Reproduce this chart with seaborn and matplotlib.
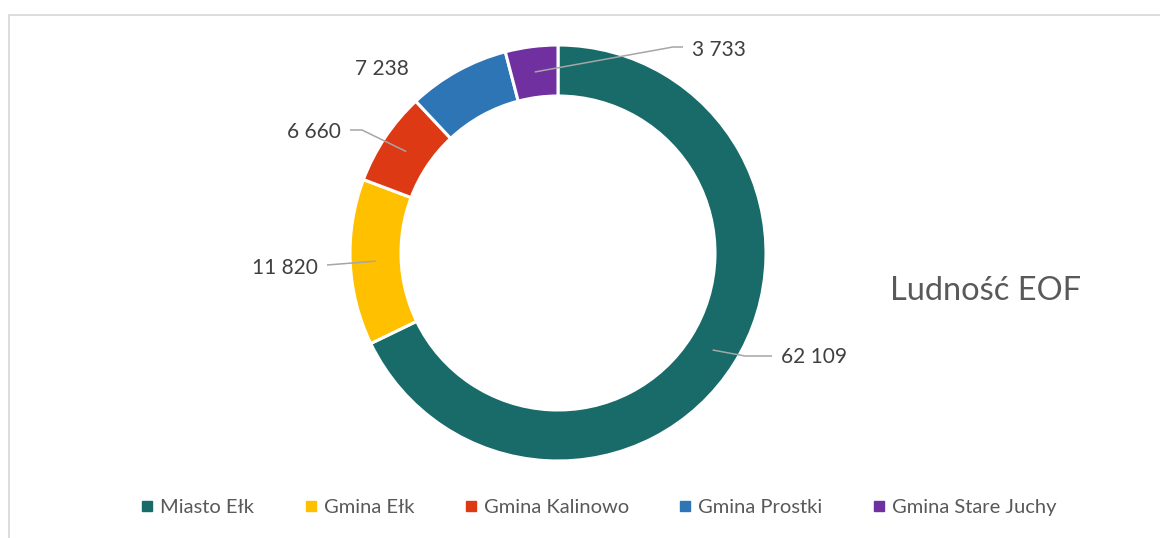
import numpy as np
import seaborn as sns
import matplotlib.pyplot as plt
from matplotlib.lines import Line2D

# dane - ludność EOF
names = ["Miasto Ełk", "Gmina Ełk", "Gmina Kalinowo", "Gmina Prostki", "Gmina Stare Juchy"]
values = [62109, 11820, 6660, 7238, 3733]
colors = ["#186B69", "#FFC000", "#DD3915", "#2E75B6", "#7030A0"]
title = "Ludność EOF"

sns.set_theme(style="white")
plt.rcParams["font.family"] = ["Lato", "DejaVu Sans"]

W, H = 1160, 538
fig = plt.figure(figsize=(W / 100, H / 100), dpi=100)
ax = fig.add_axes([0, 0, 1, 1])

cx, cy, R, ring = 558, H - 253, 208, 51
wedges, _ = ax.pie(values, colors=colors, startangle=90, counterclock=False,
                   radius=R, center=(cx, cy),
                   wedgeprops=dict(width=ring, edgecolor="white", linewidth=2.2))
ax.set_xlim(0, W)
ax.set_ylim(0, H)
ax.set_aspect("equal")
ax.axis("off")

# etykiety z liniami odniesienia (elbow, koniec linii, pozycja tekstu, wyrównanie)
label_layout = [
    ((745, 356), (772, 356), (781, 357), "left"),
    (None, (327, 265), (318, 268), "right"),
    ((362, 130), (350, 130), (341, 132), "right"),
    (None, None, (382, 69), "center"),
    ((673, 47), (683, 47), (692, 50), "left"),
]
grey = "#A6A6A6"
for w, v, (elbow, end, txt, ha) in zip(wedges, values, label_layout):
    mid = np.deg2rad((w.theta1 + w.theta2) / 2)
    r_mid = R - ring / 2
    sx, sy = cx + r_mid * np.cos(mid), cy + r_mid * np.sin(mid)
    if end is not None:
        pts = [(sx, sy)]
        if elbow is not None:
            pts.append((elbow[0], H - elbow[1]))
        pts.append((end[0], H - end[1]))
        xs, ys = zip(*pts)
        ax.plot(xs, ys, color=grey, lw=1.1, solid_capstyle="butt")
    ax.text(txt[0], H - txt[1], f"{v:,}".replace(",", " "), ha=ha, va="center",
            fontsize=15, color="#404040")

ax.text(890, H - 300, title, ha="left", va="baseline", fontsize=23.5, color="#595959")

# ramka wykresu (tylko lewa i górna krawędź widoczna)
ax.plot([8.5, 8.5, W], [0, H - 14.5, H - 14.5], color="#D9D9D9", lw=1.3, clip_on=False)

handles = [Line2D([], [], marker="s", ls="", markersize=7, color=c) for c in colors]
fig.legend(handles, names, loc="center", bbox_to_anchor=(597 / W, 1 - 507 / H),
           ncol=5, frameon=False, fontsize=14.5, labelcolor="#595959",
           handletextpad=0.15, columnspacing=2.3, handlelength=1.0)

fig.savefig("out.png", dpi=100)
